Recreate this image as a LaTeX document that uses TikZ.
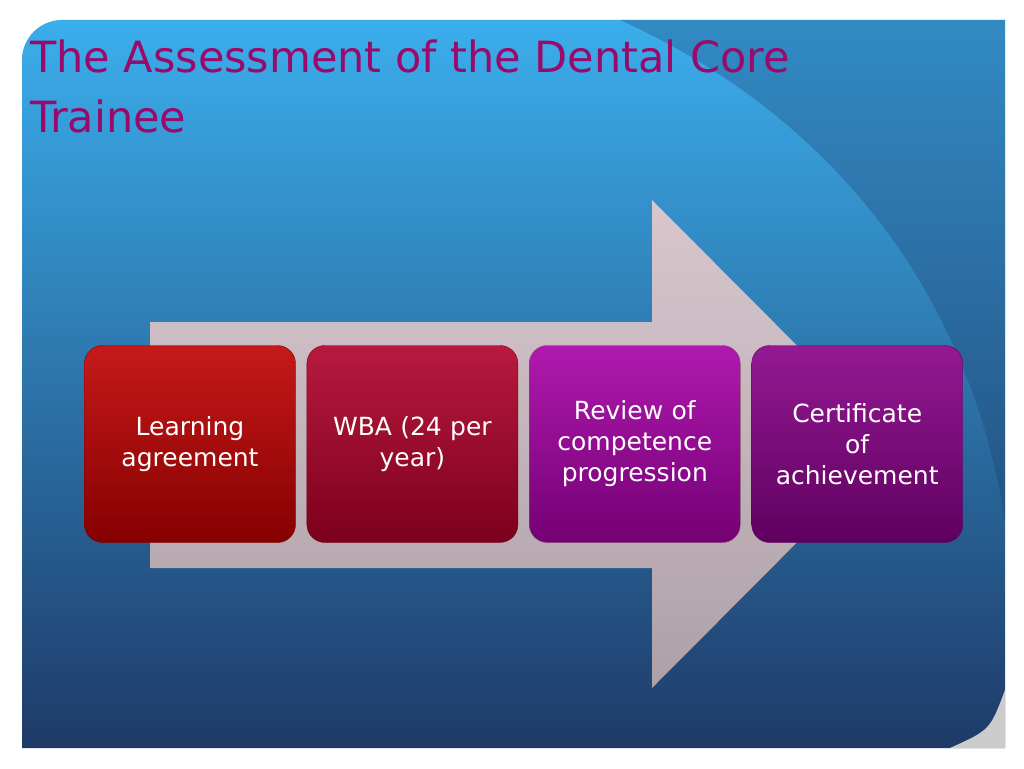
\documentclass[tikz,border=0pt]{standalone}
\usepackage{fontspec}
\setmainfont{DejaVu Sans}
\usetikzlibrary{positioning}
\definecolor{titlemag}{HTML}{9A0A6A}
\definecolor{skytop}{HTML}{3BAEEC}
\definecolor{skybot}{HTML}{1E3A68}
\definecolor{arrtop}{HTML}{E2CACE}
\definecolor{arrbot}{HTML}{B4A6AA}
\tikzset{
  stage/.style={draw=#1!70!black, rounded corners=18pt, minimum width=211pt,
    minimum height=197pt, text width=200pt, align=center, text=white,
    font=\fontsize{25}{31}\selectfont, top color=#1!90!white, bottom color=#1!70!black},
}
\begin{document}
\begin{tikzpicture}[x=1pt,y=-1pt]
\useasboundingbox (0,0) rectangle (1024,768);
\fill[white] (0,0) rectangle (1024,768);

% slide background
\shade[top color=skytop, bottom color=skybot]
  (22,748) -- (22,60) [rounded corners=40pt] -- (22,20) [sharp corners] -- (1005,20)
  -- (1005,748) -- cycle;
\fill[gray!40] (1005,690) .. controls (990,730) .. (950,748) -- (1005,748) -- cycle;
\fill[skybot, opacity=0.3] (620,20) .. controls (840,120) and (970,300) .. (1005,520)
  -- (1005,20) -- cycle;

% big arrow
\shade[top color=arrtop, bottom color=arrbot, opacity=0.95]
  (150,322) -- (652,322) -- (652,200) -- (895,444) -- (652,688) -- (652,568)
  -- (150,568) -- cycle;

% title
\node[anchor=north west, align=left, text=titlemag, font=\fontsize{43}{60}\selectfont,
  inner sep=0pt] (title) at (30,40) {The Assessment of the Dental Core\\Trainee};

% stages
\node[stage=red!75!black] (learning) at (190,444) {Learning\\agreement};
\node[stage=purple!75!red!85!black, right=11pt of learning] (wba) {WBA (24 per\\year)};
\node[stage=magenta!65!black, right=11pt of wba] (review) {Review of\\competence\\progression};
\node[stage=violet!75!magenta!85!black, right=11pt of review] (certificate) {Certificate\\of\\achievement};
\end{tikzpicture}
\end{document}
